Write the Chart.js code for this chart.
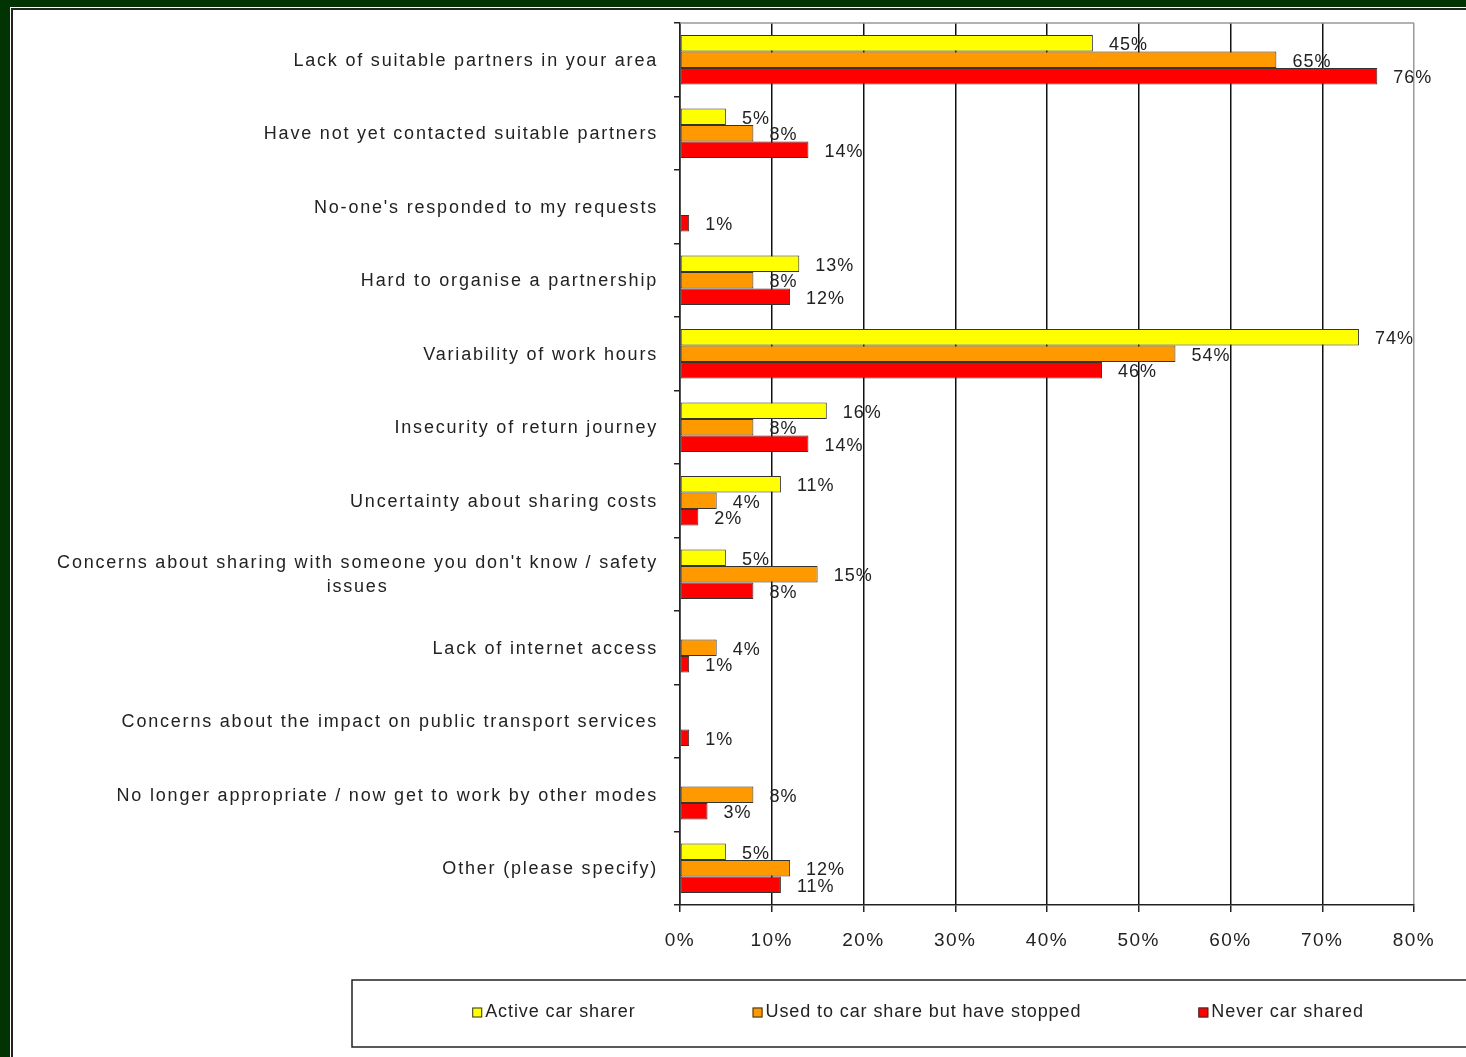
<!DOCTYPE html>
<html>
<head>
<meta charset="utf-8">
<title>Reasons for not car sharing</title>
<script src="https://cdn.jsdelivr.net/npm/chart.js@4.4.1/dist/chart.umd.min.js"></script>
<style>
    html, body { margin: 0; padding: 0; }
    body { background: #023302; width: 1466px; height: 1057px; overflow: hidden; position: relative; }
    #panel {
        position: absolute; left: 10px; top: 7px; width: 1470px; height: 1060px;
        background: #fff; border-top: 1px solid #fff; border-left: 1px solid #fff;
    }
    #panel .inner { position: absolute; left: 0; top: 0; right: 0; bottom: 0; border-top: 2px solid #222; border-left: 2px solid #222; }
    #shareChart { position: absolute; left: 0; top: 0; z-index: 2; }
</style>
</head>
<body>
<div id="panel"><div class="inner"></div></div>
<canvas id="shareChart" width="1466" height="1057"></canvas>

<script>
//--- Dados
var categories = [
    'Lack of suitable partners in your area',
    'Have not yet contacted suitable partners',
    "No-one's responded to my requests",
    'Hard to organise a partnership',
    'Variability of work hours',
    'Insecurity of return journey',
    'Uncertainty about sharing costs',
    ["Concerns about sharing with someone you don't know / safety", 'issues'],
    'Lack of internet access',
    'Concerns about the impact on public transport services',
    'No longer appropriate / now get to work by other modes',
    'Other (please specify)'
];
var seriesNames = ['Active car sharer', 'Used to car share but have stopped', 'Never car shared'];
var activeSharer = [45, 5, null, 13, 74, 16, 11, 5, null, null, null, 5];
var stoppedSharing = [65, 8, null, 8, 54, 8, 4, 15, 4, null, 8, 12];
var neverShared = [76, 14, 1, 12, 46, 14, 2, 8, 1, 1, 3, 11];
var xTicks = [0, 10, 20, 30, 40, 50, 60, 70, 80];
var seriesColors = ['#ffff00', '#ff9900', '#ff0000'];

var FONT = "'Liberation Sans', Arial, sans-serif";
var TEXT = '#222';

// wider letter spacing for all canvas text (set before chart.js draws its ticks)
var spacedText = {
    id: 'spacedText',
    beforeDraw: function (chart) {
        chart.ctx.letterSpacing = '1.5px';
    }
};

// value labels go under the bars, so the next bar in the group can cover them
var valueLabels = {
    id: 'valueLabels',
    beforeDatasetsDraw: function (chart) {
        var ctx = chart.ctx;
        ctx.save();
        ctx.font = '18px ' + FONT;
        ctx.letterSpacing = '1px';
        ctx.fillStyle = TEXT;
        ctx.textAlign = 'left';
        ctx.textBaseline = 'middle';
        chart.data.datasets.forEach(function (ds, i) {
            chart.getDatasetMeta(i).data.forEach(function (bar, j) {
                var v = ds.data[j];
                if (v === null || v === undefined) return;
                ctx.fillText(v + '%', bar.x + 16, bar.y + 2);
            });
        });
        // grey frame line across the top of the plot
        var a = chart.chartArea;
        ctx.strokeStyle = '#999';
        ctx.lineWidth = 1.5;
        ctx.beginPath();
        ctx.moveTo(a.left, a.top);
        ctx.lineTo(a.right, a.top);
        ctx.stroke();
        ctx.restore();
    }
};

// category names: right aligned block, wrapped lines centred inside it
var categoryLabels = {
    id: 'categoryLabels',
    afterDraw: function (chart) {
        var ctx = chart.ctx;
        var yScale = chart.scales.y;
        var right = chart.chartArea.left - 22;
        ctx.save();
        ctx.font = '18px ' + FONT;
        ctx.letterSpacing = '1.8px';
        ctx.fillStyle = TEXT;
        ctx.textAlign = 'center';
        ctx.textBaseline = 'middle';
        chart.data.labels.forEach(function (label, i) {
            var lines = Array.isArray(label) ? label : [label];
            var w = Math.max.apply(null, lines.map(function (l) { return ctx.measureText(l).width; }));
            var cy = yScale.getPixelForTick(i) + 1;
            var lh = 24;
            lines.forEach(function (l, k) {
                ctx.fillText(l, right - w / 2, cy + (k - (lines.length - 1) / 2) * lh);
            });
        });
        ctx.restore();
    }
};

// boxed legend under the plot
var boxLegend = {
    id: 'boxLegend',
    afterDraw: function (chart) {
        var ctx = chart.ctx;
        var box = { left: 352, top: 980, right: 1484, bottom: 1047 };
        var gap = 117, sw = 10;
        ctx.save();
        ctx.strokeStyle = '#222';
        ctx.lineWidth = 1.5;
        ctx.strokeRect(box.left, box.top, box.right - box.left, box.bottom - box.top);
        ctx.font = '18px ' + FONT;
        ctx.letterSpacing = '0.9px';
        ctx.textBaseline = 'middle';
        var widths = seriesNames.map(function (n) { return sw + 3 + ctx.measureText(n).width; });
        var total = widths.reduce(function (a, b) { return a + b; }, 0) + gap * (widths.length - 1);
        var x = (box.left + box.right) / 2 - total / 2;
        var cy = (box.top + box.bottom) / 2 - 1;
        seriesNames.forEach(function (n, i) {
            ctx.fillStyle = seriesColors[i];
            ctx.fillRect(x, cy - sw / 2, sw, sw);
            ctx.strokeStyle = '#333';
            ctx.lineWidth = 1;
            ctx.strokeRect(x + 0.5, cy - sw / 2 + 0.5, sw - 1, sw - 1);
            ctx.fillStyle = TEXT;
            ctx.fillText(n, x + sw + 3, cy);
            x += widths[i] + gap;
        });
        ctx.restore();
    }
};

function createChart() {
    var ctx = document.getElementById('shareChart').getContext('2d');
    Chart.defaults.font.family = FONT;
    Chart.defaults.color = TEXT;

    var allSeries = [activeSharer, stoppedSharing, neverShared];
    var datasets = allSeries.map(function (values, i) {
        return {
            label: seriesNames[i],
            data: values,
            backgroundColor: seriesColors[i],
            borderColor: '#333',
            borderWidth: 1,
            borderSkipped: false,
            categoryPercentage: 0.673,
            barPercentage: 1
        };
    });

    return new Chart(ctx, {
        type: 'bar',
        data: { labels: categories, datasets: datasets },
        plugins: [spacedText, valueLabels, categoryLabels, boxLegend],
        options: {
            indexAxis: 'y',
            responsive: false,
            animation: false,
            layout: { padding: { left: 673, right: 52, top: 23, bottom: 92 } },
            plugins: { legend: { display: false }, tooltip: { enabled: false } },
            scales: {
                x: {
                    min: xTicks[0],
                    max: xTicks[xTicks.length - 1],
                    afterBuildTicks: function (scale) {
                        scale.ticks = xTicks.map(function (v) { return { value: v }; });
                    },
                    afterFit: function (scale) { scale.height = 60; },
                    ticks: {
                        font: { size: 19 },
                        color: TEXT,
                        padding: 17,
                        callback: function (value) { return value + '%'; }
                    },
                    grid: {
                        color: function (c) { return c.tick && c.tick.value === 80 ? '#999' : '#111'; },
                        lineWidth: 1.5,
                        tickLength: 7,
                        tickColor: '#222'
                    },
                    border: { color: '#222', width: 1.5 }
                },
                y: {
                    afterFit: function (scale) { scale.width = 7; },
                    ticks: { display: false },
                    grid: {
                        drawOnChartArea: false,
                        drawTicks: true,
                        tickLength: 6,
                        tickColor: '#222',
                        lineWidth: 1.5
                    },
                    border: { color: '#222', width: 1.5 }
                }
            }
        }
    });
}

var shareChart = createChart();
</script>
</body>
</html>
